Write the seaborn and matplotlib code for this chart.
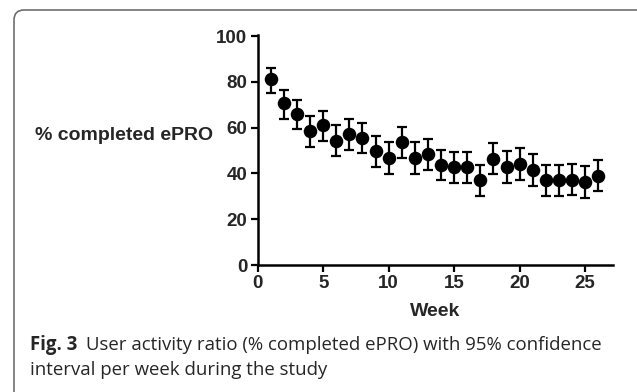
"""
Weekly ePRO completion with 95% CI (Fig. 3 recreation)
"""
import matplotlib
matplotlib.use('Agg')
import matplotlib.pyplot as plt
from matplotlib.patches import FancyBboxPatch
import numpy as np
import pandas as pd
import seaborn as sns

# Data
weeks = list(range(1, 27))
pct_completed = [81.2, 70.6, 65.9, 58.7, 61.2, 54.3, 57.2, 55.5, 49.6, 46.7,
                 53.6, 46.8, 48.5, 43.8, 42.8, 42.8, 37.0, 46.4, 42.8, 44.2,
                 41.3, 37.0, 37.0, 37.3, 36.3, 38.7]
ci_upper = [86.2, 76.4, 72.2, 65.2, 67.4, 61.2, 63.8, 62.0, 56.2, 53.6,
            60.4, 53.6, 55.0, 50.3, 49.3, 49.3, 43.8, 53.2, 49.6, 51.0,
            48.3, 43.8, 43.8, 44.2, 43.2, 45.7]
ci_lower = [75.3, 64.0, 59.4, 51.7, 54.3, 47.8, 50.3, 48.8, 43.0, 39.9,
            46.8, 39.9, 41.3, 37.0, 36.0, 36.0, 30.1, 39.6, 36.0, 37.3,
            34.5, 30.1, 30.1, 30.4, 29.4, 32.2]
x_ticks = [0, 5, 10, 15, 20, 25]
y_ticks = [0, 20, 40, 60, 80, 100]

df = pd.DataFrame({'week': weeks, 'pct': pct_completed,
                   'lo': ci_lower, 'hi': ci_upper})

sns.set_theme(style='ticks')
plt.rcParams['font.family'] = ['Liberation Sans', 'DejaVu Sans']

W, H = 637, 392
fig = plt.figure(figsize=(W / 100, H / 100), dpi=100)
ax = fig.add_axes([257.7 / W, 1 - 265 / H, 355 / W, 230 / H])

# error bars first, then the dots on top
yerr = np.vstack([df['pct'] - df['lo'], df['hi'] - df['pct']])
ax.errorbar(df['week'], df['pct'], yerr=yerr, fmt='none', ecolor='black',
            elinewidth=1.6, capsize=3.8, capthick=1.6, zorder=2)
sns.scatterplot(data=df, x='week', y='pct', color='black', s=95,
                edgecolor='black', linewidth=0, ax=ax, zorder=3)

ax.set_xlim(0, 27.1)
ax.set_ylim(0, 100.5)
ax.set_xticks(x_ticks)
ax.set_yticks(y_ticks)
ax.set_xlabel('')
ax.set_ylabel('')
for s in ['top', 'right']:
    ax.spines[s].set_visible(False)
for s in ['left', 'bottom']:
    ax.spines[s].set_linewidth(1.8)
    ax.spines[s].set_color('black')
ax.tick_params(axis='both', length=5, width=1.6, color='black',
               labelsize=13.5, pad=2.5)
for lab in ax.get_xticklabels() + ax.get_yticklabels():
    lab.set_fontweight('bold')

# axis titles placed like the original
fig.text(213 / W, 1 - 136 / H, '% completed ePRO', ha='right', va='center',
         fontsize=14, fontweight='bold')
fig.text(435 / W, 1 - 311 / H, 'Week', ha='center', va='center',
         fontsize=14, fontweight='bold')

# caption
cap_font = ['Open Sans', 'DejaVu Sans']
fig.text(30 / W, 1 - 350 / H, 'Fig. 3', ha='left', va='baseline',
         fontsize=13.4, fontweight='bold', family=cap_font)
fig.text(86 / W, 1 - 350 / H,
         'User activity ratio (% completed ePRO) with 95% confidence',
         ha='left', va='baseline', fontsize=13.4, family=cap_font)
fig.text(30 / W, 1 - 375 / H, 'interval per week during the study',
         ha='left', va='baseline', fontsize=13.4, family=cap_font)

# rounded frame, cut off at the right and bottom like the source image
frame = FancyBboxPatch((14, -20), 640, H - 10 + 20,
                       boxstyle='round,pad=0,rounding_size=10',
                       transform=None, fill=False, edgecolor='#6e6e6e',
                       linewidth=1.2)
fig.patches.append(frame)

fig.savefig('out.png', dpi=100)
